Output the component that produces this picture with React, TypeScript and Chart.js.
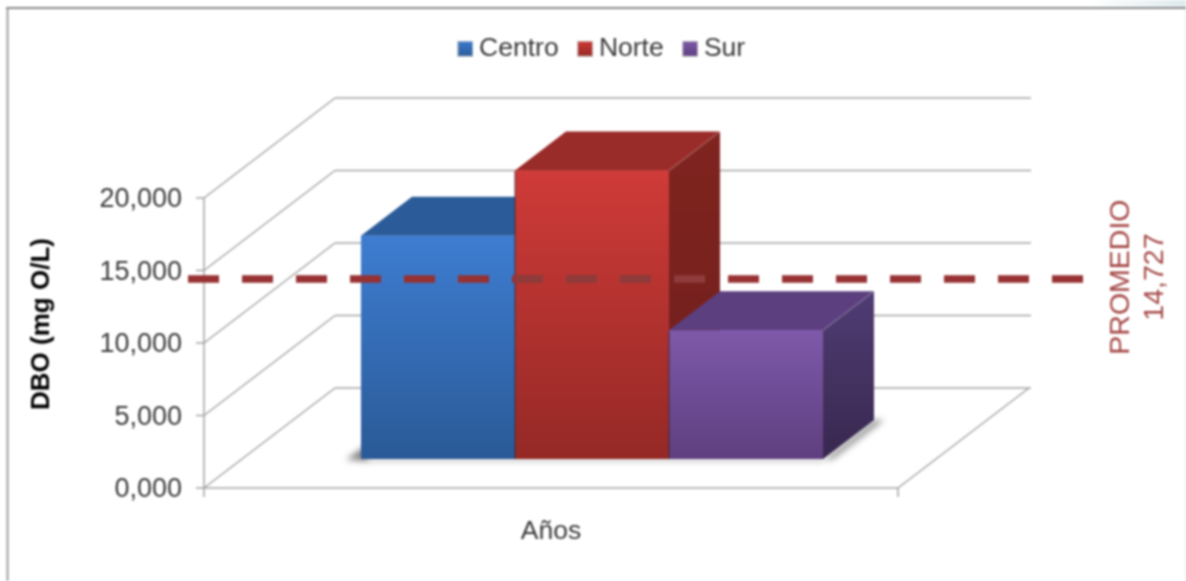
import React, { useEffect, useRef } from "react";
import { Chart, registerables } from "chart.js";

Chart.register(...registerables);

const FONT = '"Liberation Sans", Arial, sans-serif';

const categoryLabels = ["Años"];
const seriesNames = ["Centro", "Norte", "Sur"];
const centroValues = [15.4];
const norteValues = [19.9];
const surValues = [8.88];
const yTickValues = [0, 5, 10, 15, 20];
const promedioPosition = 14.41;
const promedioText = ["PROMEDIO", "14,727"];
const yTitle = "DBO (mg O/L)";

const frontTop = ["#3e7dd1", "#cf3b38", "#7e59aa"];
const frontBottom = ["#2a5a97", "#952926", "#5f3f7f"];
const topFace = ["#2b5c99", "#992b29", "#5c3f7e"];
const sideTop = ["#24507f", "#80241f", "#503c74"];
const sideBottom = ["#1f4470", "#6f1f1d", "#38284f"];

const DEPTH_X = 51;
const DEPTH_Y = -39;
const WALL_X = 131;
const WALL_Y = -100;
const FLOOR_WIDTH = 694;
const GRID = "#a4a4a4";

function swatch(i: number) {
  const c = document.createElement("canvas");
  c.width = 16;
  c.height = 16;
  const g = c.getContext("2d")!;
  const grad = g.createLinearGradient(0, 0, 0, 16);
  grad.addColorStop(0, frontTop[i]);
  grad.addColorStop(1, frontBottom[i]);
  g.fillStyle = grad;
  g.fillRect(1, 1, 14, 14);
  g.strokeStyle = "rgba(120,120,120,0.45)";
  g.strokeRect(0.5, 0.5, 15, 15);
  return c;
}

function line(ctx: CanvasRenderingContext2D, x0: number, y0: number, x1: number, y1: number) {
  ctx.beginPath();
  ctx.moveTo(x0, y0);
  ctx.lineTo(x1, y1);
  ctx.stroke();
}

function poly(ctx: CanvasRenderingContext2D, pts: number[][], fill: any) {
  ctx.fillStyle = fill;
  ctx.beginPath();
  pts.forEach((p, i) => (i ? ctx.lineTo(p[0], p[1]) : ctx.moveTo(p[0], p[1])));
  ctx.closePath();
  ctx.fill();
}

const scene3d = {
  id: "scene3d",
  afterLayout(chart: any) {
    const l = chart.legend;
    const shift = 605 - (l.left + l.right) / 2;
    l.left += shift;
    l.right += shift;
  },
  beforeDraw(chart: any) {
    const { ctx } = chart;
    ctx.save();
    ctx.fillStyle = "#ffffff";
    ctx.fillRect(0, 0, 1186, 581);
    const band = ctx.createLinearGradient(1090, 0, 1186, 0);
    band.addColorStop(0, "rgba(222,234,236,0)");
    band.addColorStop(1, "rgba(222,234,236,1)");
    ctx.fillStyle = band;
    ctx.fillRect(1090, 0, 96, 8);
    ctx.strokeStyle = "#e6ecee";
    ctx.lineWidth = 1;
    line(ctx, 1185.5, 8, 1185.5, 581);
    ctx.lineWidth = 2;
    ctx.strokeStyle = "#8a8a8a";
    line(ctx, 6, 8, 1186, 8);
    ctx.strokeStyle = "#a0a0a0";
    line(ctx, 7.5, 8, 7.5, 581);
    ctx.restore();
  },
  beforeDatasetsDraw(chart: any) {
    const { ctx, chartArea, scales } = chart;
    const left = chartArea.left;
    const y = scales.y;
    const base = y.getPixelForValue(0);
    const right = left + FLOOR_WIDTH;
    ctx.save();
    ctx.strokeStyle = GRID;
    ctx.lineWidth = 1.5;
    yTickValues.forEach((v) => {
      const p = y.getPixelForValue(v);
      line(ctx, left - 8, p, left, p);
      line(ctx, left, p, left + WALL_X, p + WALL_Y);
      line(ctx, left + WALL_X, p + WALL_Y, left + WALL_X + FLOOR_WIDTH + 2, p + WALL_Y);
    });
    line(ctx, left, y.getPixelForValue(20), left, base + 9);
    line(ctx, left, base, right, base);
    line(ctx, right, base, right, base + 9);
    line(ctx, right, base, right + WALL_X, base + WALL_Y);
    ctx.restore();
  },
  afterDatasetsDraw(chart: any) {
    const { ctx, scales } = chart;
    const metas = seriesNames.map((_, i) => chart.getDatasetMeta(i));
    const first = metas[0].data[0];
    const last = metas[metas.length - 1].data[0];
    const norte = metas[1].data[0];
    ctx.save();
    // floor shadow
    ctx.filter = "blur(3px)";
    const baseY = first.base;
    const lx = first.x - first.width / 2;
    const rx = last.x + last.width / 2;
    poly(ctx, [[lx - 15, baseY + 1], [lx + 6, baseY - 14], [lx + 6, baseY + 1]], "rgba(70,70,70,0.7)");
    poly(ctx, [[rx, baseY + 1], [rx + DEPTH_X, baseY + DEPTH_Y], [rx + DEPTH_X + 10, baseY + DEPTH_Y], [rx + 10, baseY]], "rgba(70,70,70,0.6)");
    poly(ctx, [[lx, baseY - 1], [rx, baseY - 1], [rx, baseY + 2], [lx, baseY + 2]], "rgba(70,70,70,0.45)");
    ctx.filter = "none";
    metas.forEach((meta, i) => {
      const b = meta.data[0];
      const l = b.x - b.width / 2;
      const r = b.x + b.width / 2;
      const t = b.y;
      const bo = b.base;
      poly(ctx, [[l, t], [l + DEPTH_X, t + DEPTH_Y], [r + DEPTH_X, t + DEPTH_Y], [r, t]], topFace[i]);
      const grad = ctx.createLinearGradient(0, t + DEPTH_Y, 0, bo);
      grad.addColorStop(0, sideTop[i]);
      grad.addColorStop(1, sideBottom[i]);
      poly(ctx, [[r, t], [r + DEPTH_X, t + DEPTH_Y], [r + DEPTH_X, bo + DEPTH_Y], [r, bo]], grad);
      ctx.strokeStyle = "rgba(255,255,255,0.08)";
      ctx.lineWidth = 2.5;
      line(ctx, r, t, r + DEPTH_X, t + DEPTH_Y);
      b.draw(ctx);
      if (i > 0) {
        ctx.strokeStyle = "rgba(50,40,50,0.55)";
        ctx.lineWidth = 1.5;
        line(ctx, l, t + 1, l, bo);
      }
    });
    // average line
    const py = scales.y.getPixelForValue(promedioPosition);
    ctx.strokeStyle = "#973132";
    ctx.lineWidth = 7.5;
    ctx.setLineDash([31, 23]);
    line(ctx, 188, py, 1083, py);
    // the dashes read slightly lighter where they cross the Norte column
    ctx.save();
    ctx.beginPath();
    ctx.rect(norte.x - norte.width / 2, py - 6, norte.width + DEPTH_X, 12);
    ctx.clip();
    ctx.strokeStyle = "#8f3b3b";
    line(ctx, 188, py, 1083, py);
    ctx.restore();
    ctx.setLineDash([]);
    // average label
    ctx.translate(1138, py - 2);
    ctx.rotate(-Math.PI / 2);
    ctx.fillStyle = "#a44745";
    ctx.font = `28.5px ${FONT}`;
    ctx.textAlign = "center";
    ctx.textBaseline = "middle";
    ctx.fillText(promedioText[0], 0, -17);
    ctx.fillText(promedioText[1], 0, 17);
    ctx.restore();
  },
};

export default function App() {
  const ref = useRef<HTMLCanvasElement | null>(null);

  useEffect(() => {
    const values = [centroValues, norteValues, surValues];
    const chart = new Chart(ref.current!, {
      type: "bar",
      data: {
        labels: categoryLabels,
        datasets: seriesNames.map((name, i) => ({
          label: name,
          data: values[i],
          xAxisID: "x",
          yAxisID: "yBars",
          categoryPercentage: 0.5954,
          barPercentage: 1,
          borderWidth: 0,
          backgroundColor: (c: any) => {
            const s = c.chart.scales.yBars;
            if (!s || c.raw === undefined) return frontTop[i];
            const g = c.chart.ctx.createLinearGradient(0, s.getPixelForValue(c.raw), 0, s.getPixelForValue(0));
            g.addColorStop(0, frontTop[i]);
            g.addColorStop(1, frontBottom[i]);
            return g;
          },
        })),
      },
      plugins: [scene3d],
      options: {
        responsive: false,
        animation: false,
        devicePixelRatio: 1,
        layout: { padding: { left: 20, right: 206, top: 9.5, bottom: 0 } },
        plugins: {
          tooltip: { enabled: false },
          legend: {
            display: true,
            position: "top",
            labels: {
              usePointStyle: true,
              pointStyleWidth: 1,
              padding: 26,
              color: "#3a3a3a",
              font: { family: FONT, size: 26.5 },
              generateLabels: () =>
                seriesNames.map((name, i) => ({
                  text: name,
                  datasetIndex: i,
                  pointStyle: swatch(i),
                  fontColor: "#3a3a3a",
                  hidden: false,
                  lineWidth: 0,
                })),
            },
          },
        },
        scales: {
          spacer: {
            type: "linear",
            axis: "x",
            position: "top",
            display: true,
            grid: { display: false },
            border: { display: false },
            ticks: { display: false },
            afterFit: (s: any) => {
              s.height = 88;
            },
          },
          x: {
            type: "category",
            position: "bottom",
            grid: { display: false },
            border: { display: false },
            ticks: {
              autoSkip: false,
              maxRotation: 0,
              labelOffset: -41,
              padding: 20,
              color: "#3a3a3a",
              font: { family: FONT, size: 26.5 },
            },
            afterFit: (s: any) => {
              s.height = 93;
            },
          },
          y: {
            type: "linear",
            position: "left",
            min: 0,
            max: 22.62,
            grid: { display: false },
            border: { display: false },
            title: {
              display: true,
              text: yTitle,
              color: "#000000",
              padding: { top: 6, bottom: 0 },
              font: { family: FONT, size: 26, weight: "bold" },
            },
            ticks: {
              stepSize: 5,
              includeBounds: false,
              padding: 14,
              labelOffset: 2,
              color: "#3a3a3a",
              font: { family: FONT, size: 27 },
              callback: (v: any) => (yTickValues.includes(v) ? v.toFixed(3).replace(".", ",") : ""),
            },
            afterFit: (s: any) => {
              s.width = 184;
            },
          },
          yBars: {
            type: "linear",
            position: "left",
            display: false,
            min: -2,
            max: 20.62,
          },
        },
      },
    } as any);
    return () => chart.destroy();
  }, []);

  return (
    <div style={{ position: "fixed", left: 0, top: 0, width: 1186, height: 581 }}>
      <canvas ref={ref} width={1186} height={581} style={{ display: "block", filter: "blur(0.8px)" }} />
    </div>
  );
}
